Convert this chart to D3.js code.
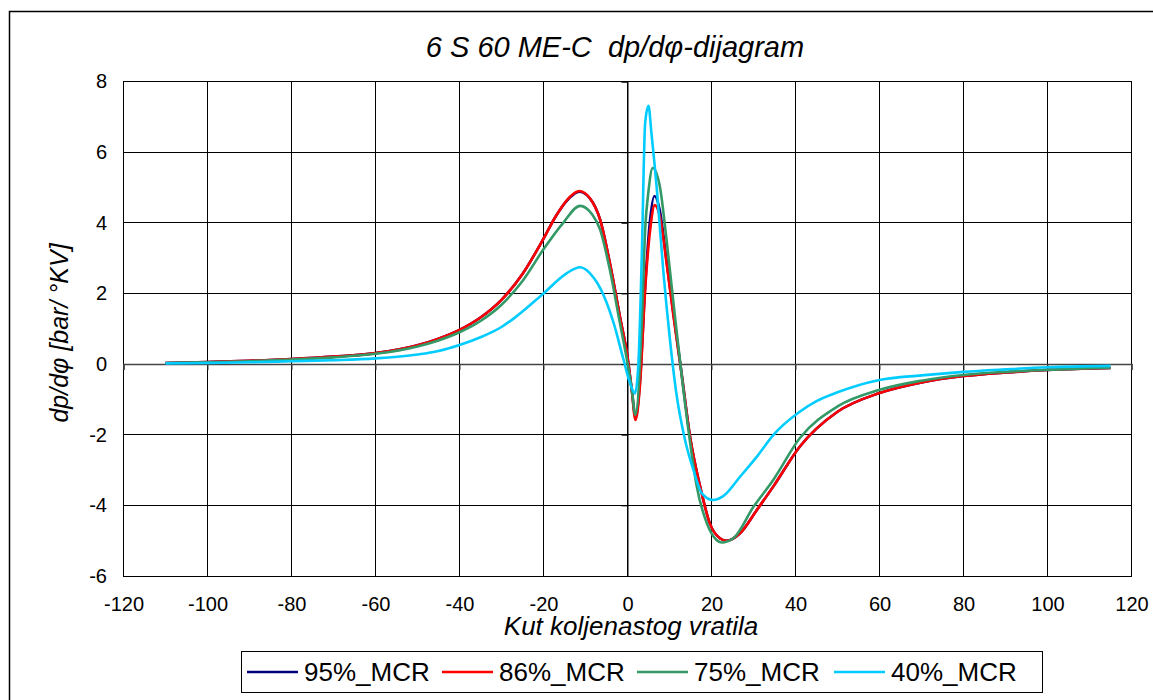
<!DOCTYPE html>
<html>
<head>
<meta charset="utf-8">
<script src="https://cdn.jsdelivr.net/npm/d3@7"></script>
<style>
  html, body { margin: 0; padding: 0; background: #fff; }
  svg { display: block; font-family: "Liberation Sans", Arial, sans-serif; }
</style>
</head>
<body>
<svg id="chart" width="1153" height="700"></svg>
<script>
// ---------- data ----------
const titleText = "6 S 60 ME-C  dp/d\u03c6-dijagram";
const xAxisTitle = "Kut koljenastog vratila";
const yAxisTitle = "dp/d\u03c6 [bar/ \u00b0KV]";
const xTicks = [-120, -100, -80, -60, -40, -20, 0, 20, 40, 60, 80, 100, 120];
const yTicks = [-6, -4, -2, 0, 2, 4, 6, 8];
const seriesNames = ["95%_MCR", "86%_MCR", "75%_MCR", "40%_MCR"];
const seriesColors = ["#000080", "#ff0000", "#339966", "#00ccff"];

const angle95 = [-110,-100,-90,-80,-70,-60,-50,-45,-40,-35,-30,-25,-20,-17,-14,-11.5,-9,-6.5,-4.2,-1.8,0,1,1.9,3,4.2,5.3,6.4,7.7,9.3,10.9,12.9,14.9,17.3,19.6,22,23.6,26.8,30.8,34.7,41,50,60,70,80,90,100,115];
const dp95    = [0.03,0.06,0.09,0.14,0.21,0.31,0.53,0.72,0.97,1.32,1.82,2.55,3.55,4.2,4.68,4.88,4.7,4.08,2.86,1.34,0.2,-0.7,-1.5,-0.45,2.2,4.0,4.76,4.35,2.92,1.45,-0.28,-2.06,-3.47,-4.51,-4.93,-5.0,-4.79,-4.13,-3.47,-2.34,-1.35,-0.82,-0.52,-0.34,-0.24,-0.17,-0.11];

const angle86 = [-110,-100,-90,-80,-70,-60,-50,-45,-40,-35,-30,-25,-20,-17,-14,-11.5,-9,-6.5,-4.2,-1.8,0,1,1.9,3,4.2,5.4,6.5,7.7,9.3,10.9,12.9,14.9,17.3,19.6,22,23.6,26.8,30.8,34.7,41,50,60,70,80,90,100,115];
const dp86    = [0.03,0.06,0.09,0.14,0.21,0.31,0.53,0.72,0.97,1.32,1.82,2.55,3.55,4.2,4.7,4.9,4.7,4.08,2.86,1.34,0.2,-0.73,-1.58,-0.54,2.1,3.8,4.5,4.18,2.86,1.4,-0.3,-2.06,-3.47,-4.51,-4.93,-5.0,-4.79,-4.13,-3.47,-2.34,-1.35,-0.82,-0.52,-0.34,-0.24,-0.17,-0.11];

const angle75 = [-110,-100,-90,-80,-70,-60,-50,-45,-40,-35,-30,-25,-20,-15.3,-11.3,-8.5,-6.5,-4.2,-1.8,0,1,1.9,3.4,4.2,5,6,7.7,9.3,11.3,13.3,15,16.5,18.9,21.2,22.4,25.2,30,34.7,41,50,60,70,80,90,100,115];
const dp75    = [0.03,0.05,0.08,0.13,0.19,0.29,0.5,0.67,0.9,1.22,1.68,2.35,3.25,4.0,4.48,4.25,3.8,2.67,1.16,0.03,-0.7,-1.44,1.16,3.8,4.9,5.55,5.03,3.52,1.34,-0.73,-2.3,-3.47,-4.51,-4.98,-5.05,-4.93,-4.04,-3.28,-2.1,-1.2,-0.73,-0.47,-0.31,-0.22,-0.16,-0.1];

const angle40 = [-110,-100,-90,-80,-70,-60,-50,-45,-40,-35,-30,-27.2,-20,-14.5,-11.3,-8.1,-6.5,-3.4,-1,0.6,1.8,2.6,3.4,4.2,5,5.7,7,8.5,10.1,11.6,13.7,15.7,17.7,20.4,22.8,26.8,30.8,34.7,41,45,50,60,70,80,90,100,115];
const dp40    = [0.02,0.03,0.05,0.08,0.11,0.16,0.27,0.37,0.54,0.76,1.05,1.28,2.0,2.57,2.74,2.45,2.15,1.2,0.15,-0.54,-0.83,0.02,3.04,6.82,7.31,6.54,4.93,2.67,0.7,-0.8,-2.15,-3.0,-3.66,-3.85,-3.74,-3.19,-2.62,-2.01,-1.35,-1.05,-0.8,-0.45,-0.32,-0.22,-0.15,-0.09,-0.05];

const seriesAngles = [angle95, angle86, angle75, angle40];
const seriesValues = [dp95, dp86, dp75, dp40];

// ---------- layout ----------
const svg = d3.select("#chart");
const plot = { left: 123.5, right: 1131.5, top: 81.5, bottom: 576 };
const font = "'Liberation Sans', Arial, sans-serif";
const fmt = d => String(d);

const x = d3.scaleLinear().domain([-120, 120]).range([plot.left, plot.right]);
const y = d3.scaleLinear().domain([-6, 8]).range([plot.bottom, plot.top]);

// outer chart border
svg.append("rect")
  .attr("x", 9.5).attr("y", 11.5).attr("width", 1300).attr("height", 800)
  .attr("fill", "#fff").attr("stroke", "#000").attr("stroke-width", 1.5);

// plot background
svg.append("rect")
  .attr("x", plot.left).attr("y", plot.top)
  .attr("width", plot.right - plot.left).attr("height", plot.bottom - plot.top)
  .attr("fill", "#fff");

// gridlines
const grid = svg.append("g").attr("shape-rendering", "crispEdges");
grid.selectAll("line.v").data(xTicks).join("line")
  .attr("x1", d => x(d)).attr("x2", d => x(d))
  .attr("y1", plot.top).attr("y2", plot.bottom)
  .attr("stroke", "#000").attr("stroke-width", 1);
grid.selectAll("line.h").data(yTicks).join("line")
  .attr("x1", plot.left).attr("x2", plot.right)
  .attr("y1", d => y(d)).attr("y2", d => y(d))
  .attr("stroke", "#000").attr("stroke-width", 1);

// plot border
svg.append("rect")
  .attr("x", plot.left).attr("y", plot.top)
  .attr("width", plot.right - plot.left).attr("height", plot.bottom - plot.top)
  .attr("fill", "none").attr("stroke", "#000").attr("stroke-width", 1)
  .attr("shape-rendering", "crispEdges");

// axis lines crossing at zero with tick marks
const xAxisZero = svg.append("g")
  .attr("transform", `translate(0,${y(0)})`)
  .call(d3.axisBottom(x).tickValues(xTicks).tickSize(6).tickFormat(""));
xAxisZero.select(".domain").attr("stroke", "#444").attr("stroke-width", 1.6);
xAxisZero.selectAll(".tick line").attr("stroke", "#444");

const yAxisZero = svg.append("g")
  .attr("transform", `translate(${x(0)},0)`)
  .call(d3.axisLeft(y).tickValues(yTicks).tickSize(6).tickFormat(""));
yAxisZero.select(".domain").attr("stroke", "#000").attr("stroke-width", 1);
yAxisZero.selectAll(".tick line").attr("stroke", "#000");

// tick labels
const xLabels = svg.append("g")
  .attr("transform", `translate(0,${plot.bottom})`)
  .call(d3.axisBottom(x).tickValues(xTicks).tickSize(0).tickPadding(21).tickFormat(fmt));
xLabels.select(".domain").remove();
xLabels.selectAll("text").attr("font-size", 20).attr("font-family", font).attr("fill", "#000");

const yLabels = svg.append("g")
  .attr("transform", `translate(${plot.left},0)`)
  .call(d3.axisLeft(y).tickValues(yTicks).tickSize(0).tickPadding(16.5).tickFormat(fmt));
yLabels.select(".domain").remove();
yLabels.selectAll("text").attr("font-size", 20).attr("font-family", font).attr("fill", "#000");

// series lines
const line = d3.line().curve(d3.curveMonotoneX).x(d => x(d[0])).y(d => y(d[1]));
svg.append("clipPath").attr("id", "plotclip").append("rect")
  .attr("x", plot.left).attr("y", plot.top)
  .attr("width", plot.right - plot.left).attr("height", plot.bottom - plot.top);
const linesG = svg.append("g").attr("clip-path", "url(#plotclip)");
seriesNames.forEach((name, i) => {
  const pts = seriesAngles[i].map((a, k) => [a, seriesValues[i][k]]);
  linesG.append("path")
    .datum(pts)
    .attr("d", line)
    .attr("fill", "none")
    .attr("stroke", seriesColors[i])
    .attr("stroke-width", 2.6)
    .attr("stroke-linejoin", "round");
});

// titles
svg.append("text")
  .attr("x", 615).attr("y", 57)
  .attr("text-anchor", "middle")
  .attr("xml:space", "preserve")
  .style("white-space", "pre")
  .attr("font-family", font).attr("font-style", "italic").attr("font-size", 29)
  .text(titleText);

svg.append("text")
  .attr("x", 631).attr("y", 635)
  .attr("text-anchor", "middle")
  .attr("font-family", font).attr("font-style", "italic").attr("font-size", 26)
  .text(xAxisTitle);

svg.append("text")
  .attr("transform", "translate(68,333) rotate(-90)")
  .attr("text-anchor", "middle")
  .attr("font-family", font).attr("font-style", "italic").attr("font-size", 25)
  .text(yAxisTitle);

// legend
const legend = svg.append("g");
legend.append("rect")
  .attr("x", 241.5).attr("y", 651.5).attr("width", 801).attr("height", 41)
  .attr("fill", "#fff").attr("stroke", "#000").attr("stroke-width", 1);
const legendX = [247, 442, 637, 834];
seriesNames.forEach((name, i) => {
  const g = legend.append("g").attr("transform", `translate(${legendX[i]},672)`);
  g.append("line").attr("x1", 0).attr("x2", 51).attr("y1", 0).attr("y2", 0)
    .attr("stroke", seriesColors[i]).attr("stroke-width", 2.6);
  g.append("text").attr("x", 57).attr("y", 9)
    .attr("font-family", font).attr("font-size", 26)
    .text(name);
});
</script>
</body>
</html>
